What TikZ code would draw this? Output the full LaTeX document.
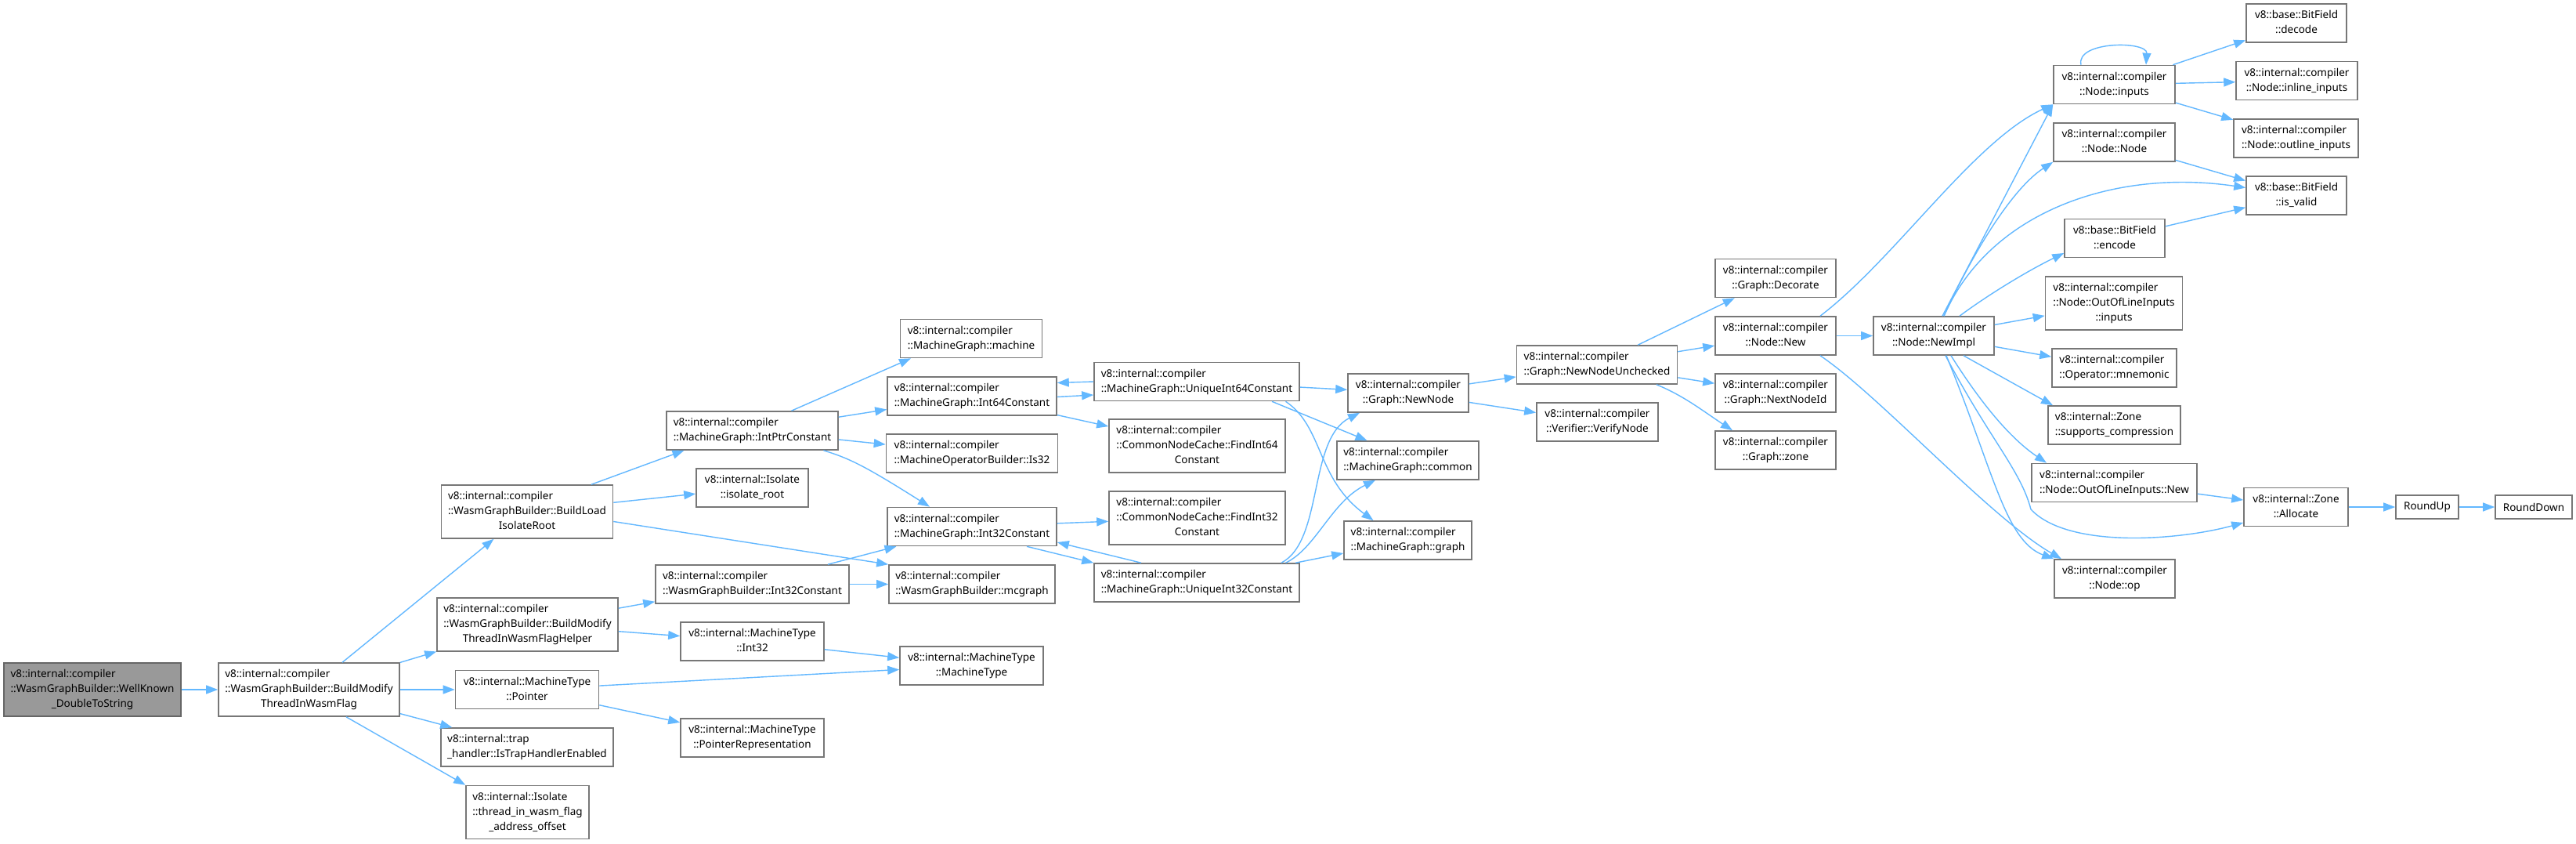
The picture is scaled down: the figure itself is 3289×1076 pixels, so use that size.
\documentclass[tikz,border=0pt]{standalone}
\usepackage{fontspec}
\setmainfont{Noto Sans}
\usetikzlibrary{arrows.meta}
\definecolor{edgeblue}{HTML}{63B8FF}
\definecolor{boxline}{HTML}{777777}
\definecolor{mainfill}{HTML}{999999}
\definecolor{mainline}{HTML}{666666}
\newcommand\nodefont{\fontsize{13.5pt}{19pt}\selectfont}
\newcommand\twol[2]{\begin{tabular}{@{}l@{}}#1\\\multicolumn{1}{@{}c@{}}{#2}\end{tabular}}
\newcommand\threel[3]{\begin{tabular}{@{}l@{}}#1\\#2\\\multicolumn{1}{@{}c@{}}{#3}\end{tabular}}
\newcommand\vic{v8::internal::compiler}
\begin{document}
\begin{tikzpicture}[x=1pt,y=-1pt,
 box/.style={draw=boxline, fill=white, line width=1.6pt, inner sep=0pt, font=\nodefont, align=center, rectangle},
 b1/.style={box, minimum height=30pt},
 b2/.style={box, minimum height=49pt},
 b3/.style={box, minimum height=68pt},
 edge/.style={draw=edgeblue, line width=1.4pt, -{Triangle[length=15pt,width=11pt]}}]
\useasboundingbox[fill=white] (0,0) rectangle (3289,1076);

% column 1-2
\node[b3,fill=mainfill,draw=mainline,minimum width=226pt] (n0) at (118,880) {\threel{\vic}{::WasmGraphBuilder::WellKnown}{\_DoubleToString}};
\node[b3,minimum width=231pt] (bmt) at (394.5,880) {\threel{\vic}{::WasmGraphBuilder::BuildModify}{ThreadInWasmFlag}};
% column 3
\node[b3,minimum width=219pt] (blir) at (673,653) {\threel{\vic}{::WasmGraphBuilder::BuildLoad}{IsolateRoot}};
\node[b3,minimum width=231pt] (bmth) at (673.5,797) {\threel{\vic}{::WasmGraphBuilder::BuildModify}{ThreadInWasmFlagHelper}};
\node[b2,minimum width=183pt] (ptr) at (673,880) {\twol{v8::internal::MachineType}{::Pointer}};
\node[b2,minimum width=220pt] (trap) at (673,953.5) {\twol{v8::internal::trap}{\_handler::IsTrapHandlerEnabled}};
\node[b3,minimum width=157pt] (tiw) at (673.5,1036.5) {\threel{v8::internal::Isolate}{::thread\_in\_wasm\_flag}{\_address\_offset}};
% column 4
\node[b2,minimum width=219pt] (ipc) at (960.5,549.5) {\twol{\vic}{::MachineGraph::IntPtrConstant}};
\node[b2,minimum width=143pt] (iroot) at (960.5,622.5) {\twol{v8::internal::Isolate}{::isolate\_root}};
\node[b2,minimum width=247pt] (wi32) at (960.5,745.5) {\twol{\vic}{::WasmGraphBuilder::Int32Constant}};
\node[b2,minimum width=183pt] (mti32) at (960.5,818.5) {\twol{v8::internal::MachineType}{::Int32}};
\node[b2,minimum width=183pt] (pr) at (960.5,941.5) {\twol{v8::internal::MachineType}{::PointerRepresentation}};
% column 5
\node[b2,minimum width=181pt] (machine) at (1240,432) {\twol{\vic}{::MachineGraph::machine}};
\node[b2,minimum width=216pt] (i64) at (1241,505.5) {\twol{\vic}{::MachineGraph::Int64Constant}};
\node[b2,minimum width=219pt] (is32) at (1241,578.5) {\twol{\vic}{::MachineOperatorBuilder::Is32}};
\node[b2,minimum width=216pt] (i32) at (1241,672) {\twol{\vic}{::MachineGraph::Int32Constant}};
\node[b2,minimum width=212pt] (mcg) at (1241,745.5) {\twol{\vic}{::WasmGraphBuilder::mcgraph}};
\node[b2,minimum width=183pt] (mtmt) at (1240.5,849.5) {\twol{v8::internal::MachineType}{::MachineType}};
% column 6
\node[b2,minimum width=262pt] (u64) at (1528,487) {\twol{\vic}{::MachineGraph::UniqueInt64Constant}};
\node[b3,minimum width=225pt] (f64) at (1528.5,569) {\threel{\vic}{::CommonNodeCache::FindInt64}{Constant}};
\node[b3,minimum width=225pt] (f32) at (1528.5,661) {\threel{\vic}{::CommonNodeCache::FindInt32}{Constant}};
\node[b2,minimum width=262pt] (u32) at (1528,743.5) {\twol{\vic}{::MachineGraph::UniqueInt32Constant}};
% column 7
\node[b2,minimum width=154pt] (nn) at (1798,501.5) {\twol{\vic}{::Graph::NewNode}};
\node[b2,minimum width=181pt] (common) at (1797.5,587.5) {\twol{\vic}{::MachineGraph::common}};
\node[b2,minimum width=163pt] (graph) at (1797.5,689.5) {\twol{\vic}{::MachineGraph::graph}};
% column 8
\node[b2,minimum width=205pt] (nnu) at (2039,465.5) {\twol{\vic}{::Graph::NewNodeUnchecked}};
\node[b2,minimum width=155pt] (vn) at (2039.5,538.5) {\twol{\vic}{::Verifier::VerifyNode}};
% column 9
\node[b2,minimum width=154pt] (dec) at (2267,355) {\twol{\vic}{::Graph::Decorate}};
\node[b2,minimum width=154pt] (nnew) at (2267,428.5) {\twol{\vic}{::Node::New}};
\node[b2,minimum width=154pt] (nid) at (2267,501.5) {\twol{\vic}{::Graph::NextNodeId}};
\node[b2,minimum width=154pt] (gz) at (2267,574.5) {\twol{\vic}{::Graph::zone}};
% column 10
\node[b2,minimum width=154pt] (nimpl) at (2469,428.5) {\twol{\vic}{::Node::NewImpl}};
% column 11
\node[b2,minimum width=155pt] (inp) at (2699.5,108) {\twol{\vic}{::Node::inputs}};
\node[b2,minimum width=155pt] (nnode) at (2699.5,181.5) {\twol{\vic}{::Node::Node}};
\node[b2,minimum width=128pt] (enc) at (2700,304) {\twol{v8::base::BitField}{::encode}};
\node[b3,minimum width=175pt] (oolinp) at (2699,387) {\threel{\vic}{::Node::OutOfLineInputs}{::inputs}};
\node[b2,minimum width=159pt] (mnem) at (2699.5,469.5) {\twol{\vic}{::Operator::mnemonic}};
\node[b2,minimum width=169pt] (supc) at (2699.5,542.5) {\twol{v8::internal::Zone}{::supports\_compression}};
\node[b2,minimum width=211pt] (oolnew) at (2699.5,616) {\twol{\vic}{::Node::OutOfLineInputs::New}};
\node[b2,minimum width=154pt] (nop) at (2700,738.5) {\twol{\vic}{::Node::op}};
% column 12
\node[b2,minimum width=128pt] (decode) at (2932,29.5) {\twol{v8::base::BitField}{::decode}};
\node[b2,minimum width=155pt] (inl) at (2932.5,103) {\twol{\vic}{::Node::inline\_inputs}};
\node[b2,minimum width=159pt] (outl) at (2931.5,176.5) {\twol{\vic}{::Node::outline\_inputs}};
\node[b2,minimum width=128pt] (isv) at (2932,249.5) {\twol{v8::base::BitField}{::is\_valid}};
\node[b2,minimum width=133pt] (alloc) at (2931.5,647) {\twol{v8::internal::Zone}{::Allocate}};
\node[b1,minimum width=80pt] (ru) at (3099,647) {RoundUp};
\node[b1,minimum width=98pt] (rd) at (3235,647) {RoundDown};

% edges
\draw[edge] (n0) -- (bmt);
\draw[edge] (bmt) -- (blir);
\draw[edge] (bmt) -- (bmth);
\draw[edge] (bmt) -- (ptr);
\draw[edge] (bmt) -- (trap);
\draw[edge] ([xshift=47.5pt]bmt.south) -- (tiw.north west);

\draw[edge] ([xshift=82pt]blir.north) -- ([xshift=-87pt]ipc.south);
\draw[edge] (blir) -- (iroot);
\draw[edge] ([yshift=-12.5pt]blir.east) -- (mcg.north west);
\draw[edge] (bmth) -- (wi32);
\draw[edge] (bmth) -- (mti32);
\draw[edge] (ptr) -- (mtmt);
\draw[edge] (ptr) -- (pr);

\draw[edge] ([xshift=50pt]ipc.north) -- ([xshift=-77pt]machine.south);
\draw[edge] (ipc) -- (i64);
\draw[edge] (ipc) -- (is32);
\draw[edge] ([xshift=91pt]ipc.south) .. controls (1085,585) and (1105,595) .. ([xshift=-54pt]i32.north);
\draw[edge] (wi32) -- (i32);
\draw[edge] (wi32) -- (mcg);
\draw[edge] (mti32) -- (mtmt);

\draw[edge] ([yshift=-1pt]i64.east) -- ([yshift=-17pt]u64.west);
\draw[edge] (u64.west) -- ([yshift=17pt]i64.east);
\draw[edge] (i64) -- (f64);
\draw[edge] (i32) -- (f32);
\draw[edge] ([xshift=70pt]i32.south) -- (u32.north west);
\draw[edge] ([xshift=-71pt]u32.north) -- ([yshift=-20pt]i32.east);

\draw[edge] (u64) -- (nn);
\draw[edge] ([xshift=96pt]u64.south) -- ([xshift=-52pt]common.north);
\draw[edge] ([xshift=113.5pt]u64.south) .. controls (1690,545) and (1680,610) .. ([xshift=-44pt]graph.north);
\draw[edge] ([xshift=108pt]u32.north) .. controls (1690,690) and (1670,560) .. ([xshift=-62pt]nn.south);
\draw[edge] ([xshift=113.5pt]u32.north) .. controls (1680,700) and (1700,640) .. ([xshift=-41.5pt]common.south);
\draw[edge] (u32) -- (graph);

\draw[edge] (nn) -- (nnu);
\draw[edge] (nn) -- (vn);
\draw[edge] (nnu) -- (dec);
\draw[edge] (nnu) -- (nnew);
\draw[edge] (nnu) -- (nid);
\draw[edge] ([xshift=76pt]nnu.south) .. controls (2150,505) and (2175,525) .. ([xshift=-55pt]gz.north);

\draw[edge] (nnew) -- (nimpl);
\draw[edge] ([xshift=57pt]nnew.north) .. controls (2420,330) and (2520,180) .. (inp.south west);
\draw[edge] ([xshift=57pt]nnew.south) .. controls (2400,505) and (2540,660) .. ([xshift=-68pt]nop.north);

\draw[edge] ([xshift=11pt]nimpl.north) -- (inp.south west);
\draw[edge] ([xshift=13pt]nimpl.north) .. controls (2520,320) and (2570,240) .. (nnode.south west);
\draw[edge] ([xshift=13pt]nimpl.north) .. controls (2540,270) and (2700,215) .. ([yshift=10pt]isv.west);
\draw[edge] ([xshift=33pt]nimpl.north) .. controls (2540,375) and (2590,345) .. ([yshift=-19pt]enc.west);
\draw[edge] (nimpl) -- (oolinp);
\draw[edge] (nimpl) -- (mnem);
\draw[edge] ([xshift=38pt]nimpl.south) .. controls (2545,475) and (2590,500) .. ([xshift=-78.5pt]supc.north);
\draw[edge] ([xshift=22pt]nimpl.south) .. controls (2520,500) and (2560,555) .. ([xshift=-86.5pt]oolnew.north);
\draw[edge] ([xshift=15pt]nimpl.south) .. controls (2540,560) and (2580,600) .. (2593,650) .. controls (2640,700) and (2780,690) .. ([yshift=-20pt]alloc.west);
\draw[edge] ([xshift=16pt]nimpl.south) .. controls (2545,600) and (2560,690) .. (nop.north west);

\draw[edge] (nnode) -- (isv);
\draw[edge] (enc) -- (isv);
\draw[edge] (inp) -- (decode);
\draw[edge] (inp) -- (inl);
\draw[edge] (inp) -- (outl);
\draw[edge] ([xshift=-42.5pt]inp.north) .. controls (2650,52) and (2742,52) .. ([xshift=40.5pt]inp.north);

\draw[edge] (oolnew) -- (alloc);
\draw[edge] (alloc) -- (ru);
\draw[edge] (ru) -- (rd);
\end{tikzpicture}
\end{document}
